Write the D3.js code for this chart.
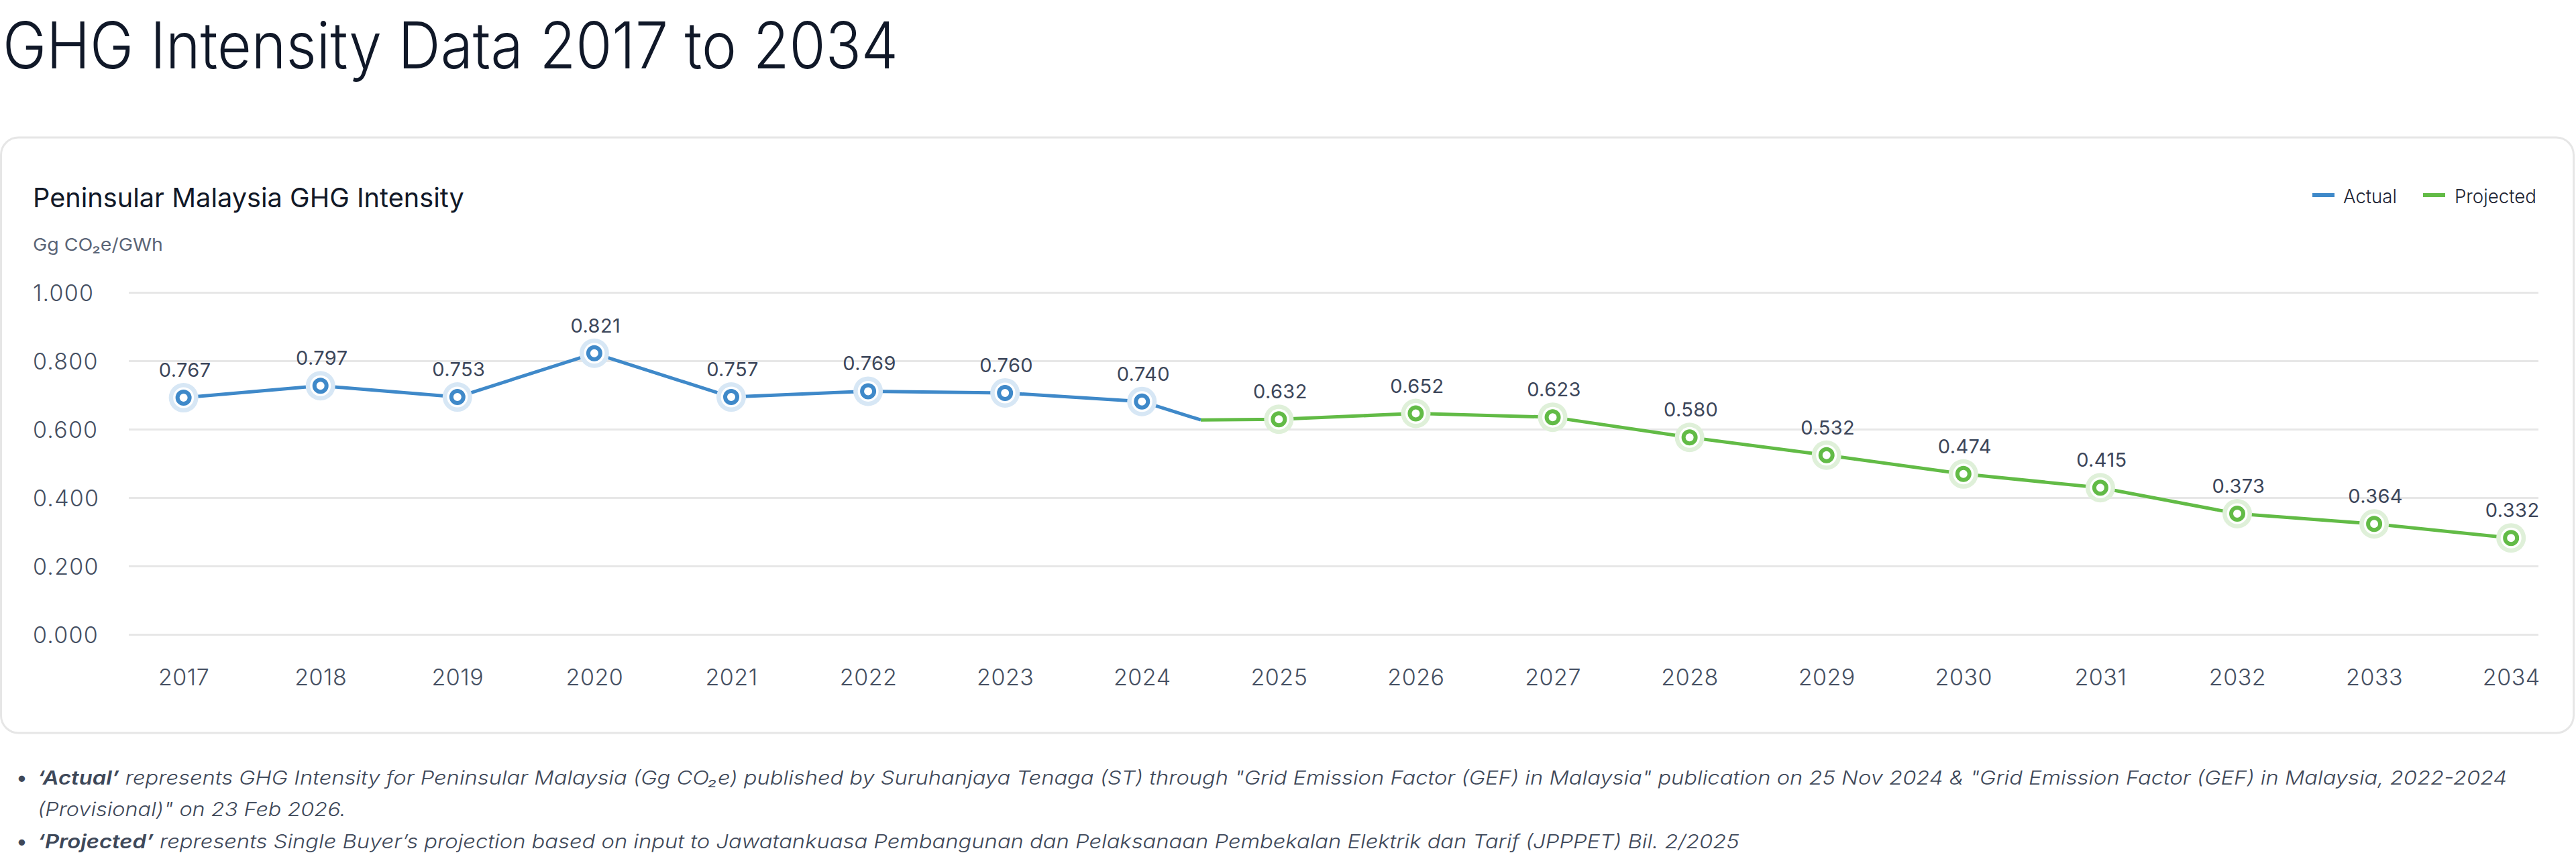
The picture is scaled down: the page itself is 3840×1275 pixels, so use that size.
<!DOCTYPE html>
<html>
<head>
<meta charset="utf-8">
<script src="https://cdn.jsdelivr.net/npm/d3@7"></script>
<style>
  html, body { margin: 0; padding: 0; background: #ffffff; }
  svg { display: block; }
  text { font-family: Inter, "Noto Sans", "DejaVu Sans", sans-serif; }
</style>
</head>
<body>
<svg id="chart" width="3840" height="1275"></svg>
<script>
// ---------------- DATA ----------------
const years = [2017, 2018, 2019, 2020, 2021, 2022, 2023, 2024, 2025, 2026, 2027, 2028, 2029, 2030, 2031, 2032, 2033, 2034];

const actualYears  = [2017, 2018, 2019, 2020, 2021, 2022, 2023, 2024];
const actualValues = [0.692, 0.727, 0.694, 0.822, 0.694, 0.711, 0.706, 0.681];
const actualLabels = ["0.767", "0.797", "0.753", "0.821", "0.757", "0.769", "0.760", "0.740"];

// joint where the actual line hands over to the projected line
const bridgeYear  = 2024.43;
const bridgeValue = 0.627;

const projectedYears  = [2025, 2026, 2027, 2028, 2029, 2030, 2031, 2032, 2033, 2034];
const projectedValues = [0.629, 0.646, 0.635, 0.576, 0.524, 0.469, 0.429, 0.353, 0.323, 0.282];
const projectedLabels = ["0.632", "0.652", "0.623", "0.580", "0.532", "0.474", "0.415", "0.373", "0.364", "0.332"];

const yTicks = [0, 0.2, 0.4, 0.6, 0.8, 1.0];
const seriesNames = ["Actual", "Projected"];

const pageTitle  = "GHG Intensity Data 2017 to 2034";
const chartTitle = "Peninsular Malaysia GHG Intensity";
const unitLabel  = "Gg CO\u2082e/GWh";
const footnotes = [
  { bullet: true,  bold: "\u2018Actual\u2019", text: " represents GHG Intensity for Peninsular Malaysia (Gg CO\u2082e) published by Suruhanjaya Tenaga (ST) through \"Grid Emission Factor (GEF) in Malaysia\" publication on 25 Nov 2024 & \"Grid Emission Factor (GEF) in Malaysia, 2022-2024" },
  { bullet: false, bold: "", text: "(Provisional)\" on 23 Feb 2026." },
  { bullet: true,  bold: "\u2018Projected\u2019", text: " represents Single Buyer\u2019s projection based on input to Jawatankuasa Pembangunan dan Pelaksanaan Pembekalan Elektrik dan Tarif (JPPPET) Bil. 2/2025" }
];

// ---------------- STYLE ----------------
const BLUE = "#3f89c9", BLUE_HALO = "#d7e7f5";
const GREEN = "#62bb46", GREEN_HALO = "#dff0d9";
const GRID = "#e7e7e7";
const TICK_TEXT = "#454f62";
const LABEL_TEXT = "#3c465a";

const svg = d3.select("#chart");

function fitWidth(sel, target) {
  sel.each(function () {
    const w = this.getComputedTextLength();
    if (!w) return;
    const x0 = +this.getAttribute("x") || 0;
    const k = target / w;
    this.setAttribute("transform", `translate(${x0},0) scale(${k},1) translate(${-x0},0)`);
  });
}

// Page title
svg.append("text")
  .attr("x", 4).attr("y", 102)
  .attr("font-size", 96).attr("font-weight", 300)
  .attr("fill", "#101828")
  .text(pageTitle)
  .call(fitWidth, 1335);

// Card
svg.append("rect")
  .attr("x", 1.5).attr("y", 205).attr("width", 3835).attr("height", 888)
  .attr("rx", 26).attr("ry", 26)
  .attr("fill", "#ffffff").attr("stroke", "#e6e6e6").attr("stroke-width", 3);

// Chart title & unit
svg.append("text")
  .attr("x", 49).attr("y", 309)
  .attr("font-size", 40).attr("font-weight", 400)
  .attr("fill", "#111827")
  .text(chartTitle)
  .call(fitWidth, 643);

svg.append("text")
  .attr("x", 49).attr("y", 374)
  .attr("font-size", 26).attr("font-weight", 400)
  .attr("fill", "#5b6577")
  .text(unitLabel)
  .call(fitWidth, 194);

// Scales
const plotLeft = 192, plotRight = 3784;
const x = d3.scaleLinear().domain([2016.6, 2034.2]).range([plotLeft, plotRight]);
const y = d3.scaleLinear().domain([0, 1]).range([946, 436]);

// Y axis with grid
const yAxis = d3.axisLeft(y)
  .tickValues(yTicks)
  .tickFormat(d3.format(".3f"))
  .tickSize(-(plotRight - plotLeft))
  .tickPadding(0);

const gy = svg.append("g")
  .attr("transform", `translate(${plotLeft},0)`)
  .call(yAxis);
gy.select(".domain").remove();
gy.selectAll(".tick line").attr("stroke", GRID).attr("stroke-width", 3);
gy.selectAll(".tick text")
  .attr("x", 49 - plotLeft)
  .attr("dy", "0.37em")
  .attr("text-anchor", "start")
  .attr("font-family", "Inter, 'Noto Sans', sans-serif")
  .attr("font-size", 34)
  .attr("font-weight", 300)
  .attr("letter-spacing", 1.2)
  .attr("fill", TICK_TEXT);

// X axis
const xAxis = d3.axisBottom(x)
  .tickValues(years)
  .tickFormat(d3.format("d"))
  .tickSize(0);
const gx = svg.append("g")
  .attr("transform", `translate(0,${y(0)})`)
  .call(xAxis);
gx.select(".domain").remove();
gx.selectAll(".tick text")
  .attr("y", 76).attr("dy", 0)
  .attr("font-family", "Inter, 'Noto Sans', sans-serif")
  .attr("font-size", 34)
  .attr("font-weight", 300)
  .attr("letter-spacing", 0.5)
  .attr("fill", TICK_TEXT);

// Data
const actualData = actualYears.map((yr, i) => ({ year: yr, value: actualValues[i], label: actualLabels[i] }));
const projectedData = projectedYears.map((yr, i) => ({ year: yr, value: projectedValues[i], label: projectedLabels[i] }));
const bridge = { year: bridgeYear, value: bridgeValue };

const line = d3.line().x(d => x(d.year)).y(d => y(d.value));

svg.append("path")
  .datum(actualData.concat([bridge]))
  .attr("d", line)
  .attr("fill", "none").attr("stroke", BLUE).attr("stroke-width", 5)
  .attr("stroke-linejoin", "round");

svg.append("path")
  .datum([bridge].concat(projectedData))
  .attr("d", line)
  .attr("fill", "none").attr("stroke", GREEN).attr("stroke-width", 5)
  .attr("stroke-linejoin", "round");

function drawMarkers(data, color, halo, cls) {
  const g = svg.append("g").selectAll("g." + cls).data(data).join("g")
    .attr("class", cls)
    .attr("transform", d => `translate(${x(d.year)},${y(d.value)})`);
  g.append("circle").attr("r", 22).attr("fill", halo);
  g.append("circle").attr("r", 15.5).attr("fill", "#ffffff");
  g.append("circle").attr("r", 9).attr("fill", "#ffffff")
    .attr("stroke", color).attr("stroke-width", 6);

  svg.append("g").selectAll("text." + cls + "-lbl").data(data).join("text")
    .attr("class", cls + "-lbl")
    .attr("x", d => x(d.year) + 2)
    .attr("y", d => y(d.value) - 31)
    .attr("text-anchor", "middle")
    .attr("font-size", 29)
    .attr("letter-spacing", 0.4)
    .attr("fill", LABEL_TEXT)
    .text(d => d.label);
}
drawMarkers(actualData, BLUE, BLUE_HALO, "act");
drawMarkers(projectedData, GREEN, GREEN_HALO, "proj");

// Legend
const legendItems = [
  { name: seriesNames[0], color: BLUE,  x: 3447, textX: 3493, w: 80 },
  { name: seriesNames[1], color: GREEN, x: 3612, textX: 3659, w: 122 }
];
legendItems.forEach(it => {
  svg.append("line")
    .attr("x1", it.x).attr("x2", it.x + 33)
    .attr("y1", 291).attr("y2", 291)
    .attr("stroke", it.color).attr("stroke-width", 6);
  svg.append("text")
    .attr("x", it.textX).attr("y", 303)
    .attr("font-size", 29)
    .attr("font-weight", 300)
    .attr("fill", "#1d2433")
    .text(it.name)
    .call(fitWidth, it.w);
});

// Footnotes
const footY = [1170, 1217, 1265];
const footW = [3682, 460, 2538];
footnotes.forEach((f, i) => {
  if (f.bullet) {
    svg.append("text")
      .attr("x", 24).attr("y", footY[i])
      .attr("font-size", 30)
      .attr("fill", "#3e4859")
      .text("\u2022");
  }
  const t = svg.append("text")
    .attr("x", 56).attr("y", footY[i])
    .attr("font-size", 28)
    .attr("font-style", "italic")
    .attr("font-weight", 300)
    .attr("fill", "#3e4859");
  if (f.bold) t.append("tspan").attr("font-weight", 600).text(f.bold);
  t.append("tspan").text(f.text);
  t.call(fitWidth, footW[i]);
});
</script>
</body>
</html>
